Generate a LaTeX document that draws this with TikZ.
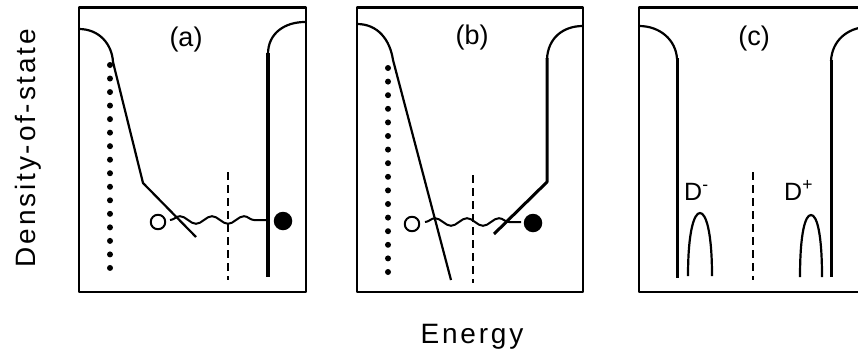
\documentclass[tikz,border=0pt]{standalone}
\usepackage{fontspec}
\setmainfont{Liberation Sans}
\newfontfamily\spacedfont[LetterSpace=10]{Liberation Sans}
\usetikzlibrary{decorations.pathmorphing}
\begin{document}
\begin{tikzpicture}[x=1pt,y=-1pt,line join=round,
  panelbox/.style={line width=2.6pt},
  curveline/.style={line width=2.2pt},
  thickline/.style={line width=3.8pt},
  midline/.style={line width=3pt},
  dashline/.style={line width=2.2pt,dash pattern=on 8pt off 5pt},
  waveline/.style={line width=2pt,decorate,decoration={snake,segment length=32pt,amplitude=3.8pt}},
  dotnode/.style={circle,fill=black,inner sep=0pt,minimum size=6pt},
  holenode/.style={circle,draw=black,line width=2pt,inner sep=0pt,minimum size=14.5pt},
  elecnode/.style={circle,fill=black,inner sep=0pt,minimum size=18.5pt},
  panellab/.style={font=\fontsize{27}{30}\selectfont,inner sep=0pt},
  axislab/.style={font=\spacedfont\fontsize{28}{32}\selectfont,inner sep=0pt},
  dlab/.style={font=\fontsize{25}{28}\selectfont,inner sep=0pt}]
\useasboundingbox (0,0) rectangle (858,351);

% panel boxes
\draw[panelbox] (79,7.5) rectangle (306,292);
\draw[panelbox] (357,7.5) rectangle (583,292);
\draw[panelbox] (639,7.5) rectangle (866,292);

% labels
\node[panellab] (la) at (186,40) {(a)};
\node[panellab] (lb) at (472,38) {(b)};
\node[panellab] (lc) at (754,39) {(c)};
\node[axislab,rotate=90,anchor=base] (dos) at (35,148) {Density-of-state};
\node[axislab,anchor=base] (en) at (472,343) {Energy};

% ---------- panel (a)
\draw[curveline] (79,29) .. controls (99,29) and (112,44) .. (113,62) -- (143,183) -- (196,237);
\foreach \i in {0,...,15} \node[dotnode] at (110,{65+\i*13.53}) {};
\draw[dashline] (228,172) -- (228,280);
\draw[thickline] (268,53) -- (268,277);
\draw[curveline] (268,54) .. controls (268,33) and (285,22) .. (305,22);
\node[holenode] (ha) at (158,222) {};
\node[elecnode] (ea) at (283,221) {};
\coordinate (wa1) at (170,220);
\coordinate (wa2) at (266,220);
\draw[waveline] (wa1) -- (wa2);

% ---------- panel (b)
\draw[curveline] (357,24) .. controls (378,24) and (390,40) .. (393,60) -- (451,280);
\foreach \i in {0,...,15} \node[dotnode] at (388,{68+\i*13.6}) {};
\draw[dashline] (473,175) -- (473,283);
\draw[midline] (494,234) -- (547,182) -- (547,58);
\draw[curveline] (547,59) .. controls (548,38) and (563,26) .. (583,26);
\node[holenode] (hb) at (412,224) {};
\node[elecnode] (eb) at (533,223) {};
\coordinate (wb1) at (425,222);
\coordinate (wb2) at (521,222);
\draw[waveline] (wb1) -- (wb2);

% ---------- panel (c)
\draw[curveline] (639,26) .. controls (660,26) and (676,40) .. (677,59);
\draw[midline] (677,58) -- (677,278);
\draw[curveline] (831,61) .. controls (832,40) and (848,28) .. (866,27);
\draw[midline] (831,60) -- (831,277);
\draw[dashline] (753,172) -- (753,280);
\draw[curveline] (688,276) .. controls (688,232) and (694,213) .. (700,213)
                 .. controls (706,213) and (712,232) .. (712,276);
\draw[curveline] (800,277) .. controls (800,234) and (805,215) .. (811,215)
                 .. controls (817,215) and (822,234) .. (822,277);
\node[dlab,anchor=base west] (dm) at (684,200) {D\textsuperscript{-}};
\node[dlab,anchor=base west] (dp) at (784,200) {D\textsuperscript{+}};
\end{tikzpicture}
\end{document}
